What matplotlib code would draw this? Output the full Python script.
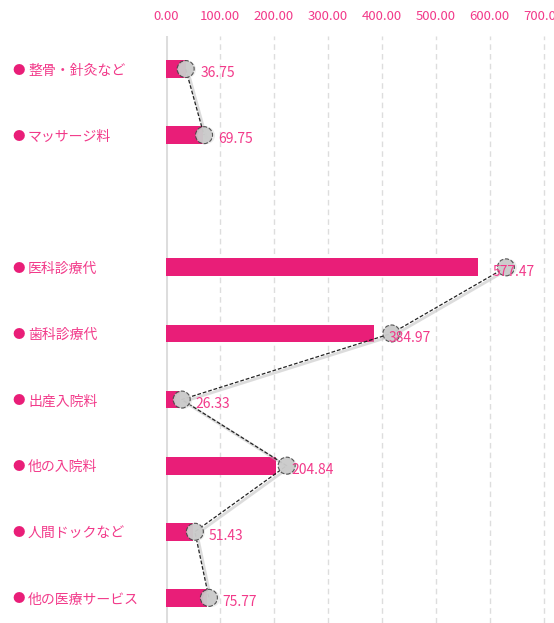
import numpy as np
import matplotlib.pyplot as plt
import matplotlib.transforms as mtransforms

plt.rcParams['font.family'] = ['Noto Sans CJK JP', 'DejaVu Sans']

categories = ['整骨・針灸など', 'マッサージ料', '', '医科診療代', '歯科診療代',
              '出産入院料', '他の入院料', '人間ドックなど', '他の医療サービス']
values = [36.75, 69.75, np.nan, 577.47, 384.97, 26.33, 204.84, 51.43, 75.77]
# where the circle markers sit (they drift past the bar ends)
marker_x = [37.0, 71.0, np.nan, 630.0, 418.0, 29.6, 224.0, 54.0, 80.0]
xticks = [0, 100, 200, 300, 400, 500, 600, 700]

pink = '#e91e78'
text_pink = '#f23a8a'

fig = plt.figure(figsize=(5.54, 6.23), dpi=100)
ax = fig.add_axes([165.7 / 554, 0, 1 - 165.7 / 554, 1 - 36 / 623])

y = np.arange(len(categories))
vals = np.array(values)
ax.barh(y, np.nan_to_num(vals), height=0.27, color=pink, zorder=3)

mx = np.array(marker_x)
ax.plot(mx + 4, y + 0.03, color='#bbbbbb', lw=2.0, alpha=0.5, zorder=4)
ax.plot(mx, y, color='#222222', lw=0.9, ls=(0, (3, 1.5)), zorder=5)
ax.scatter(mx + 3, y, s=150, color='#e0e0e0', alpha=0.6, zorder=5, linewidths=0)
ax.scatter(mx, y, s=150, facecolor='#c9c9c9', edgecolor='#444444',
           linewidths=0.8, linestyle='--', alpha=0.9, zorder=6)

for yi, v in zip(y, values):
    if np.isnan(v):
        continue
    ax.annotate(f'{v:.2f}', (v, yi), xytext=(11, -3), textcoords='offset points',
                ha='left', va='center', color=text_pink, fontsize=10, zorder=7)

trans = mtransforms.blended_transform_factory(fig.transFigure, ax.transData)
for yi, c in zip(y, categories):
    if not c:
        continue
    ax.annotate('●', (12 / 554, yi), xycoords=trans, xytext=(0, -0.8),
                textcoords='offset points', color=pink, fontsize=9,
                ha='left', va='center')
    ax.annotate(c, (28 / 554, yi), xycoords=trans, xytext=(0, -1.2),
                textcoords='offset points', color=text_pink, fontsize=10,
                ha='left', va='center')

ax.set_xlim(0, (554 - 165.7) / 0.54)
ax.set_ylim(8.38, -0.5)
ax.set_xticks(xticks)
ax.set_xticklabels([f'{t:.2f}' for t in xticks], color=text_pink, fontsize=9.5)
ax.xaxis.tick_top()
ax.tick_params(axis='x', length=0, pad=9)
ax.set_yticks([])
ax.grid(axis='x', color='#dddddd', ls=(0, (4, 3)), lw=1, zorder=0)
for s in ax.spines.values():
    s.set_visible(False)
ax.axvline(0, color='#dddddd', lw=2.2, zorder=2)

fig.savefig('out.png', dpi=100)
